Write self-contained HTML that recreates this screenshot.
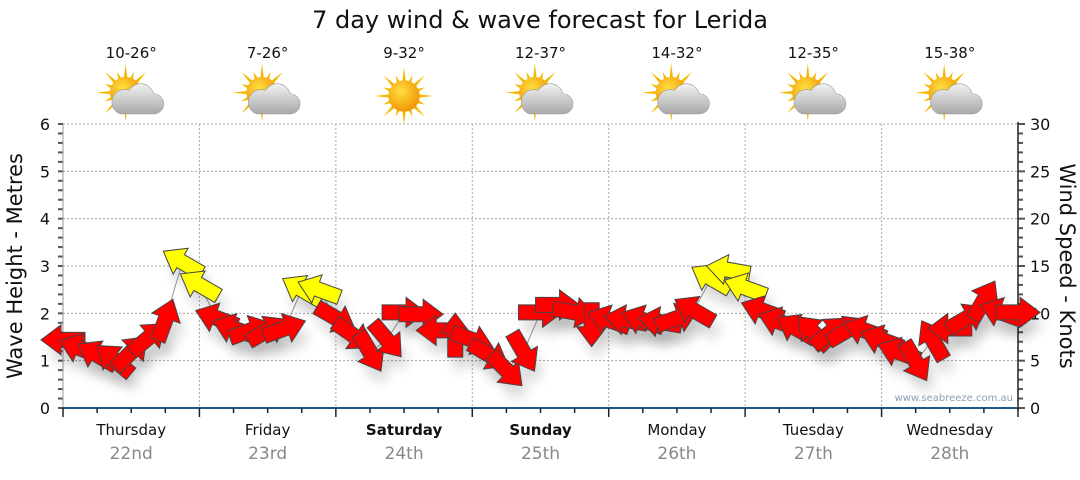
<!DOCTYPE html>
<html><head><meta charset="utf-8"><style>
body{margin:0;background:#fff;width:1080px;height:475px;overflow:hidden;font-family:"Liberation Sans","DejaVu Sans",sans-serif}
svg text{font-family:"DejaVu Sans","Liberation Sans",sans-serif}
</style></head><body>
<svg id="chart" width="1080" height="475" xmlns="http://www.w3.org/2000/svg">
<defs>
<filter id="sh" x="-50%" y="-50%" width="200%" height="200%"><feGaussianBlur stdDeviation="6"/></filter>
<radialGradient id="sunG" cx="40%" cy="35%" r="70%"><stop offset="0" stop-color="#ffe040"/><stop offset="1" stop-color="#f09000"/></radialGradient>
<linearGradient id="cloudG" x1="0" y1="0" x2="0" y2="1"><stop offset="0" stop-color="#f2f2f2"/><stop offset="1" stop-color="#a8a8a8"/></linearGradient>
</defs>
<text x="540" y="28" text-anchor="middle" font-size="24" fill="#111">7 day wind &amp; wave forecast for Lerida</text>
<g id="grid"></g><g id="axes"></g><g id="marks"></g><g id="hdr"></g>
<text x="1013" y="401" text-anchor="end" font-size="10" fill="#8aa0b8">www.seabreeze.com.au</text>
<text transform="translate(22,266) rotate(-90)" text-anchor="middle" font-size="21" fill="#111">Wave Height - Metres</text>
<text transform="translate(1060,266) rotate(90)" text-anchor="middle" font-size="21" fill="#111">Wind Speed - Knots</text>
</svg>
<script>
const days=["Thursday","Friday","Saturday","Sunday","Monday","Tuesday","Wednesday"];
const dates=["22nd","23rd","24th","25th","26th","27th","28th"];
const temps=["10-26°","7-26°","9-32°","12-37°","14-32°","12-35°","15-38°"];
const sunnyOnly=[false,false,true,false,false,false,false];
const boldDays=[false,false,true,true,false,false,false];
const leftTicks=[0,1,2,3,4,5,6];
const rightTicks=[0,5,10,15,20,25,30];
const hours=[0,3,6,9,12,15,18,21,24,27,30,33,36,39,42,45,48,51,54,57,60,63,66,69,72,75,78,81,84,87,90,93,96,99,102,105,108,111,114,117,120,123,126,129,132,135,138,141,144,147,150,153,156,159,162,165,168];
const windKnots=[7.2,6.3,5.6,5.1,5.9,7.4,9.3,15.4,13,9.5,8.4,8.2,8.2,8.4,12.5,12.5,9.5,7.7,5.9,7.2,10.1,9.9,8.2,7.7,7.2,5.6,4.0,5.9,10.1,10.9,10.1,8.8,9.3,9.3,9.3,9.1,9.5,10.3,13.7,14.6,12.7,10.3,9.1,8.4,8.0,8.0,8.2,8.2,7.2,5.9,4.9,7.2,8.4,9.5,11.4,10.1,10.1];
const windDir=[180,160,150,140,45,40,70,150,150,160,160,20,30,20,150,160,-30,-35,-60,-50,0,0,180,90,-20,-30,-45,-60,0,0,-10,-90,160,170,160,170,20,150,150,170,160,160,160,150,135,40,30,160,160,160,-60,120,180,30,60,160,0];
const NS="http://www.w3.org/2000/svg";
const X0=63,X1=1018,Y0=408,Y1=124;
const xs=h=>X0+h*(X1-X0)/168;
const yL=m=>Y0-m*(Y0-Y1)/6;
const yR=k=>Y0-k*(Y0-Y1)/30;
function mk(tag,attrs,parent){const e=document.createElementNS(NS,tag);for(const k in attrs)e.setAttribute(k,attrs[k]);parent.appendChild(e);return e;}
const grid=document.getElementById('grid'),axes=document.getElementById('axes'),marks=document.getElementById('marks'),hdr=document.getElementById('hdr');
leftTicks.forEach(v=>{if(v>0){const l=mk('line',{x1:X0,x2:X1,y1:yL(v),y2:yL(v),stroke:'#aaa','stroke-dasharray':'2,2'},grid);}
const t=mk('text',{x:50,y:yL(v)+6,'text-anchor':'end','font-size':16,fill:'#111'},axes);t.textContent=v;});
for(let i=0;i<=30;i++){mk('line',{x1:X0-5,x2:X0,y1:yL(i/5),y2:yL(i/5),stroke:'#555','stroke-width':2},axes);}
rightTicks.forEach(v=>{const t=mk('text',{x:1030,y:yR(v)+6,'font-size':16,fill:'#111'},axes);t.textContent=v;});
for(let i=0;i<=30;i++){mk('line',{x1:X1,x2:X1+(i%5?5:7),y1:yR(i),y2:yR(i),stroke:'#555','stroke-width':2},axes);}
mk('line',{x1:X0,x2:X0,y1:Y1,y2:Y0,stroke:'#999'},axes);
mk('line',{x1:X1,x2:X1,y1:Y1-2,y2:Y0+2,stroke:'#222','stroke-width':1.5},axes);
const ax=mk('line',{x1:X0-1,x2:X1,y1:Y0,y2:Y0,stroke:'#1d5a8a','stroke-width':2},axes);

for(let h=0;h<=168;h+=6){mk('line',{x1:xs(h),x2:xs(h),y1:Y0,y2:Y0+(h%24?5:9),stroke:'#222','stroke-width':1.5},axes);}
days.forEach((d,i)=>{const cx=xs(i*24+12);
if(i>0){const g=mk('line',{x1:xs(i*24),x2:xs(i*24),y1:Y1,y2:Y0,stroke:'#aaa','stroke-dasharray':'2,2'},grid);}
const t=mk('text',{x:cx,y:435,'text-anchor':'middle','font-size':15,fill:'#111','font-weight':boldDays[i]?'bold':'normal'},axes);t.textContent=d;
const t2=mk('text',{x:cx,y:459,'text-anchor':'middle','font-size':17,fill:'#888'},axes);t2.textContent=dates[i];
const t3=mk('text',{x:cx,y:58,'text-anchor':'middle','font-size':15,fill:'#111'},hdr);t3.textContent=temps[i];
const ic=mk('g',{transform:`translate(${cx},96) scale(1.12)`},hdr);
const sx=sunnyOnly[i]?0:-5,sy=sunnyOnly[i]?0:-3;
for(let a=0;a<360;a+=22.5){const r=a*Math.PI/180,L=(a/22.5)%2?20:26;mk('polygon',{points:`${sx+Math.cos(r)*L},${sy+Math.sin(r)*L} ${sx+Math.cos(r+0.12)*13},${sy+Math.sin(r+0.12)*13} ${sx+Math.cos(r-0.12)*13},${sy+Math.sin(r-0.12)*13}`,fill:'#f5b800'},ic);}
mk('circle',{cx:sx,cy:sy,r:14,fill:'url(#sunG)'},ic);
if(!sunnyOnly[i]){mk('path',{d:'M-10,16 h30 a9,9 0 0 0 0,-18 a12,12 0 0 0 -22,-3 a9,9 0 0 0 -8,21z',fill:'url(#cloudG)',stroke:'#999','stroke-width':0.5},ic);}
});
let pts=hours.map((h,i)=>`${xs(h)},${yR(windKnots[i])}`).join(' ');
const pl=mk('polyline',{points:pts,fill:'none',stroke:'#999','stroke-width':1},marks);

const shp='M22,0 L2,-15 L2,-7.5 L-22,-7.5 L-22,7.5 L2,7.5 L2,15 Z';
hours.forEach((h,i)=>{const x=xs(h),y=yR(windKnots[i]);
mk('path',{d:shp,transform:`translate(${x+5},${y+12}) rotate(${-windDir[i]})`,fill:'#000',opacity:0.15,filter:'url(#sh)'},marks);});
hours.forEach((h,i)=>{const x=xs(h),y=yR(windKnots[i]);
const a=mk('path',{d:shp,transform:`translate(${x},${y}) rotate(${-windDir[i]})`,fill:windKnots[i]>=12?'#ffff00':'#ff0000',stroke:'#444','stroke-width':1},marks);

});
</script>
</body></html>
